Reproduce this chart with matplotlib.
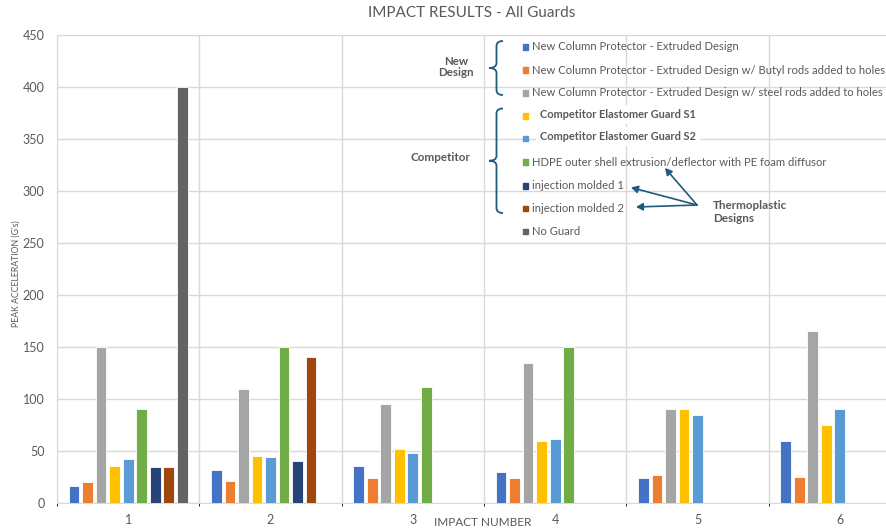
import matplotlib
matplotlib.use("Agg")
import matplotlib.pyplot as plt
import numpy as np
from matplotlib.path import Path
from matplotlib.patches import PathPatch, FancyArrowPatch

plt.rcParams['font.family'] = ['Lato', 'DejaVu Sans']

impacts = ["1", "2", "3", "4", "5", "6"]
series_names = [
    "New Column Protector - Extruded Design",
    "New Column Protector - Extruded Design w/ Butyl rods added to holes",
    "New Column Protector - Extruded Design w/ steel rods added to holes",
    "Competitor Elastomer Guard S1",
    "Competitor Elastomer Guard S2",
    "HDPE outer shell extrusion/deflector with PE foam diffusor",
    "injection molded 1",
    "injection molded 2",
    "No Guard",
]
colors = ["#4472C4", "#ED7D31", "#A5A5A5", "#FFC000", "#5B9BD5",
          "#70AD47", "#264478", "#9E480E", "#636363"]

extruded = [16, 32, 36, 30, 24, 60]
extruded_butyl = [20, 21, 24, 24, 27, 25]
extruded_steel = [150, 110, 95, 135, 90, 165]
elastomer_s1 = [36, 45, 52, 60, 90, 75]
elastomer_s2 = [42, 44, 48, 62, 85, 90]
hdpe = [90, 150, 112, 150, None, None]
molded_1 = [35, 40, None, None, None, None]
molded_2 = [35, 140, None, None, None, None]
no_guard = [400, None, None, None, None, None]

values = [extruded, extruded_butyl, extruded_steel, elastomer_s1, elastomer_s2,
          hdpe, molded_1, molded_2, no_guard]

W, H = 886, 531
fig = plt.figure(figsize=(W / 100, H / 100), dpi=100)
ax = fig.add_axes([57 / W, 1 - 503 / H, (911 - 57) / W, (503 - 35) / H])

TXT = "#595959"
GRID = "#D9D9D9"

n = len(series_names)
step = 0.095
bw = 0.075
x = np.arange(len(impacts))
for i, (vals, c) in enumerate(zip(values, colors)):
    off = (i - (n - 1) / 2) * step
    xs = [xi + off for xi, v in zip(x, vals) if v is not None]
    ys = [v for v in vals if v is not None]
    ax.bar(xs, ys, width=bw, color=c, edgecolor="white", linewidth=0.6, zorder=3)

ax.set_xlim(-0.5, len(impacts) - 0.5)
ax.set_ylim(0, 450)
ax.set_yticks(np.arange(0, 451, 50))
ax.set_xticks(x)
ax.set_xticklabels(impacts)
ax.set_xticks(np.arange(-0.5, len(impacts), 1), minor=True)
ax.grid(axis="y", color=GRID, linewidth=1, zorder=0)
ax.grid(axis="x", which="minor", color=GRID, linewidth=1, zorder=0)
ax.grid(axis="x", which="major", visible=False)
for s in ["top", "right"]:
    ax.spines[s].set_visible(False)
ax.spines["left"].set_color(GRID)
ax.spines["bottom"].set_color(GRID)
ax.tick_params(axis="both", length=0, colors=TXT, labelsize=9)
ax.tick_params(axis="y", pad=9)
ax.tick_params(axis="x", pad=8)

def fx(px):
    return px / W

def fy(py):
    return 1 - py / H

fig.text(fx(472), fy(13), "IMPACT RESULTS - All Guards", ha="center", va="center",
         fontsize=11, color=TXT)
fig.text(fx(16), fy(274), "PEAK ACCELERATION (G's)", rotation=90, ha="center",
         va="center", fontsize=6.3, color=TXT)
fig.text(fx(483), fy(523), "IMPACT NUMBER", ha="center", va="center",
         fontsize=8.5, color=TXT)

# legend rows
rows_y = [46.7, 70, 92.7, 116, 138.3, 162, 185.7, 208.3, 231.3]
for i, (name, c, yy) in enumerate(zip(series_names, colors, rows_y)):
    fig.patches.append(plt.Rectangle((fx(522.5), fy(yy + 2.8)), 5.6 / W, 5.6 / H,
                                     transform=fig.transFigure, color=c, zorder=5))
    if i in (3, 4):
        fig.text(fx(540), fy(yy - 1.8), name, ha="left", va="center", fontsize=7.9,
                 color=TXT, fontweight="bold", zorder=6,
                 bbox=dict(boxstyle="square,pad=0.35", fc="white", ec="none"))
    else:
        fig.text(fx(532), fy(yy), name, ha="left", va="center", fontsize=8.1,
                 color=TXT, zorder=6)

BR = "#1F5B7A"

def brace(top, bottom, xv=496.5, xtip=489, xend=503):
    mid = (top + bottom) / 2
    r = 5
    verts = [
        (xend, top), (xv, top), (xv, top + r),
        (xv, mid - r),
        (xv, mid), (xtip, mid),
        (xv, mid), (xv, mid + r),
        (xv, bottom - r),
        (xv, bottom), (xend, bottom),
    ]
    codes = [Path.MOVETO, Path.CURVE3, Path.CURVE3,
             Path.LINETO,
             Path.CURVE3, Path.CURVE3,
             Path.CURVE3, Path.CURVE3,
             Path.LINETO,
             Path.CURVE3, Path.CURVE3]
    pts = [(fx(a), fy(b)) for a, b in verts]
    fig.patches.append(PathPatch(Path(pts, codes), transform=fig.transFigure,
                                 fill=False, ec=BR, lw=1.3, zorder=5))

brace(41, 95)
brace(108.5, 213)

fig.text(fx(456), fy(67), "New\nDesign", ha="center", va="center", fontsize=8.3,
         color=TXT, fontweight="bold", linespacing=1.1)
fig.text(fx(440), fy(157.5), "Competitor", ha="center", va="center", fontsize=8.4,
         color=TXT, fontweight="bold")
fig.text(fx(713), fy(212), "Thermoplastic\nDesigns", ha="left", va="center",
         fontsize=8.4, color=TXT, fontweight="bold", linespacing=1.25)

origin = (fx(697), fy(205))
for tx, ty in [(631, 187.5), (636, 207), (665, 168)]:
    fig.patches.append(FancyArrowPatch(origin, (fx(tx), fy(ty)),
                                       transform=fig.transFigure,
                                       arrowstyle="-|>,head_length=4,head_width=2.2",
                                       color=BR, lw=1.2, zorder=6,
                                       shrinkA=0, shrinkB=0))

fig.savefig("out.png", dpi=100)
